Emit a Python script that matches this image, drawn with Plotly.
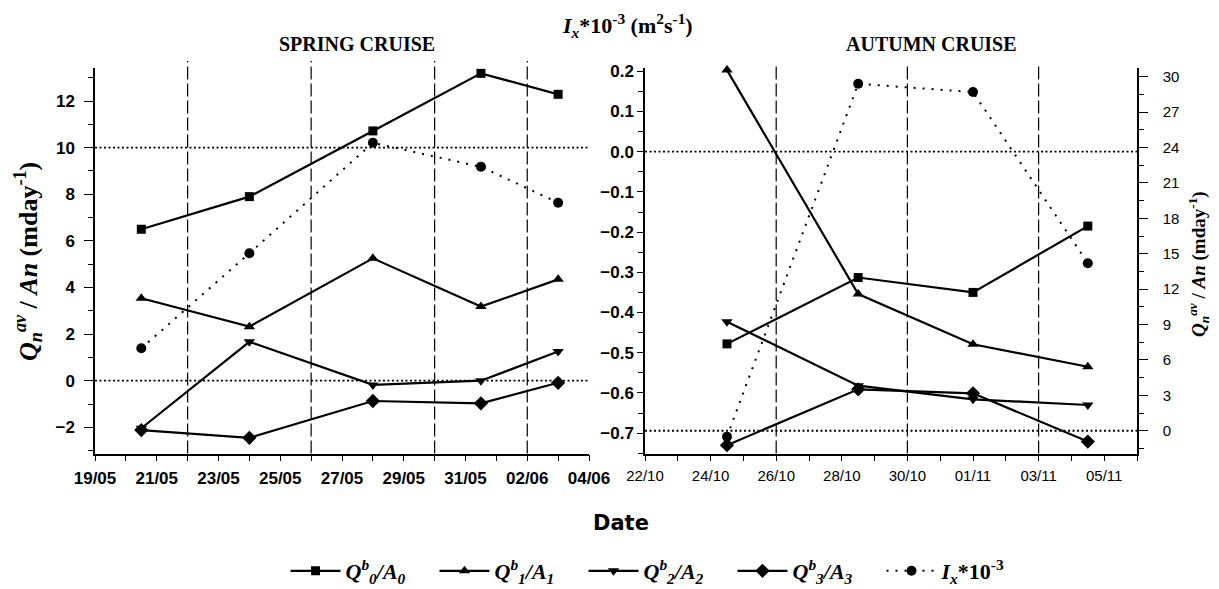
import plotly.graph_objects as go

W, H = 1219, 589        # browser window
OFF = 8                 # default page margin around the plot div
FW, FH = W - OFF, H - OFF

# ---------------- data ----------------
spring_dates = ["2001-05-20 12:00", "2001-05-24", "2001-05-28", "2001-05-31 12:00", "2001-06-03"]
spring_q0 = [6.50, 7.90, 10.72, 13.19, 12.29]
spring_q1 = [3.54, 2.32, 5.25, 3.18, 4.35]
spring_q2 = [-2.04, 1.67, -0.18, 0.00, 1.25]
spring_q3 = [-2.12, -2.45, -0.87, -0.97, -0.09]
spring_ix = [1.39, 5.47, 10.21, 9.18, 7.64]

autumn_dates = ["2001-10-24 12:00", "2001-10-28 12:00", "2001-11-01", "2001-11-04 12:00"]
autumn_q0 = [-0.478, -0.313, -0.350, -0.185]
autumn_q1 = [0.203, -0.354, -0.479, -0.535]
autumn_q2 = [-0.423, -0.582, -0.616, -0.630]
autumn_q3 = [-0.730, -0.591, -0.601, -0.721]
autumn_ix = [-0.5, 29.4, 28.7, 14.2]

spring_breaks = ["2001-05-22", "2001-05-26", "2001-05-30", "2001-06-02"]
autumn_breaks = ["2001-10-26", "2001-10-30", "2001-11-03"]
spring_zero_lines = [10, 0]

series_names = [
    "<i>Q</i><sup><i>b</i></sup><sub><i>0</i></sub><i>/A</i><sub><i>0</i></sub>",
    "<i>Q</i><sup><i>b</i></sup><sub><i>1</i></sub><i>/A</i><sub><i>1</i></sub>",
    "<i>Q</i><sup><i>b</i></sup><sub><i>2</i></sub><i>/A</i><sub><i>2</i></sub>",
    "<i>Q</i><sup><i>b</i></sup><sub><i>3</i></sub><i>/A</i><sub><i>3</i></sub>",
    "<i>I</i><sub><i>x</i></sub>*10<sup>-3</sup>",
]
symbols = ["square", "triangle-up", "triangle-down", "diamond", "circle"]
sizes = [9, 10, 10, 11, 10]

# ---------------- layout helpers (screen pixels -> paper fractions) ----------------
def px_x(p):
    return (p - OFF) / FW

def px_y(p):
    return (FH - (p - OFF)) / FH

xL = [px_x(95), px_x(589)]
xR = [px_x(645), px_x(1137)]
yD = [px_y(453.5), px_y(68)]

fig = go.Figure()

spring_series = [spring_q0, spring_q1, spring_q2, spring_q3]
autumn_series = [autumn_q0, autumn_q1, autumn_q2, autumn_q3]

for i, ys in enumerate(spring_series):
    fig.add_trace(go.Scatter(
        x=spring_dates, y=ys, mode="lines+markers", name=series_names[i],
        line=dict(color="black", width=2.2),
        marker=dict(symbol=symbols[i], size=sizes[i], color="black"),
        xaxis="x", yaxis="y", cliponaxis=False, legendrank=i + 1))
fig.add_trace(go.Scatter(
    x=spring_dates, y=spring_ix, mode="lines+markers", name=series_names[4],
    line=dict(color="black", width=2, dash="2px,7px"),
    marker=dict(symbol=symbols[4], size=sizes[4], color="black"),
    xaxis="x", yaxis="y", cliponaxis=False, legendrank=5))

for i, ys in enumerate(autumn_series):
    fig.add_trace(go.Scatter(
        x=autumn_dates, y=ys, mode="lines+markers", name=series_names[i],
        line=dict(color="black", width=2.2),
        marker=dict(symbol=symbols[i], size=sizes[i], color="black"),
        xaxis="x2", yaxis="y3", cliponaxis=False, showlegend=False))
fig.add_trace(go.Scatter(
    x=autumn_dates, y=autumn_ix, mode="lines+markers", name=series_names[4],
    line=dict(color="black", width=2, dash="2px,7px"),
    marker=dict(symbol=symbols[4], size=sizes[4], color="black"),
    xaxis="x2", yaxis="y4", cliponaxis=False, showlegend=False))

DAY = 86400000
bold_tick = dict(family="Liberation Sans", size=17, color="black", weight="bold")
reg_tick = dict(family="Liberation Sans", size=15, color="black")

common_x = dict(type="date", showgrid=False, zeroline=False, showline=True, linecolor="black",
                linewidth=1.5, ticks="outside", ticklen=6, tickwidth=1.2, tickcolor="black",
                tickformat="%d/%m", dtick=2 * DAY, automargin=False, ticklabelstandoff=2)

fig.update_layout(
    width=FW, height=FH,
    margin=dict(l=0, r=0, t=0, b=0, autoexpand=False),
    paper_bgcolor="white", plot_bgcolor="white",
    xaxis=dict(common_x, domain=xL, anchor="y", range=["2001-05-19", "2001-06-04"],
               tick0="2001-05-19", tickfont=bold_tick,
               minor=dict(dtick=DAY, tick0="2001-05-19", ticks="outside", ticklen=6,
                          tickwidth=1.2, tickcolor="black")),
    xaxis2=dict(common_x, domain=xR, anchor="y3", range=["2001-10-22", "2001-11-06"],
                tick0="2001-10-22", tickfont=reg_tick,
                minor=dict(dtick=DAY, tick0="2001-10-22", ticks="outside", ticklen=6,
                           tickwidth=1.2, tickcolor="black")),
    yaxis=dict(domain=yD, anchor="x", range=[-3.124, 13.42], showgrid=False, zeroline=False,
               showline=True, linecolor="black", linewidth=1.5, ticks="outside", ticklen=9,
               tickwidth=1.2, tickcolor="black", dtick=2, tick0=0, tickfont=bold_tick,
               automargin=False, ticklabelstandoff=6,
               minor=dict(dtick=1, tick0=0, ticks="outside", ticklen=5, tickwidth=1.2,
                          tickcolor="black")),
    yaxis2=dict(domain=yD, anchor="x", overlaying="y", side="right", range=[-0.7507, 0.2082],
                showgrid=False, zeroline=False, showline=True, linecolor="black", linewidth=1.5,
                ticks="inside", ticklen=6, tickwidth=1.2, tickcolor="black", dtick=0.05, tick0=0,
                showticklabels=False, automargin=False),
    yaxis3=dict(domain=yD, anchor="x2", range=[-0.7507, 0.2082], showgrid=False, zeroline=False,
                showline=True, linecolor="black", linewidth=1.5, ticks="outside", ticklen=6,
                tickwidth=1.2, tickcolor="black", dtick=0.1, tick0=0, tickformat=".1f",
                tickfont=bold_tick, automargin=False, ticklabelstandoff=0,
                minor=dict(dtick=0.05, tick0=0, ticks="outside", ticklen=5, tickwidth=1.2,
                           tickcolor="black")),
    yaxis4=dict(domain=yD, anchor="x2", overlaying="y3", side="right", range=[-1.93, 30.74],
                showgrid=False, zeroline=False, showline=True, linecolor="black", linewidth=1.5,
                ticks="outside", ticklen=9, tickwidth=1.2, tickcolor="black", dtick=3, tick0=0,
                tickfont=reg_tick, automargin=False, ticklabelstandoff=12,
                minor=dict(dtick=1.5, tick0=0, ticks="outside", ticklen=5, tickwidth=1.2,
                           tickcolor="black")),
    showlegend=True,
    legend=dict(orientation="h", x=px_x(658), xanchor="center", y=px_y(571), yanchor="middle",
                font=dict(family="Liberation Serif", size=22, color="black", weight="bold"),
                bgcolor="rgba(0,0,0,0)", itemwidth=50, entrywidth=84, entrywidthmode="pixels",
                traceorder="normal"),
)

shapes = []
for d in spring_breaks:
    shapes.append(dict(type="line", xref="x", yref="paper", x0=d, x1=d, y0=yD[0], y1=px_y(61),
                       line=dict(color="black", width=1.2, dash="13px,4px")))
for d in autumn_breaks:
    shapes.append(dict(type="line", xref="x2", yref="paper", x0=d, x1=d, y0=yD[0], y1=px_y(63),
                       line=dict(color="black", width=1.2, dash="13px,4px")))
for v in spring_zero_lines:
    shapes.append(dict(type="line", xref="x domain", yref="y", x0=0, x1=1, y0=v, y1=v,
                       line=dict(color="black", width=1.8, dash="2px,2.5px")))
shapes.append(dict(type="line", xref="x2 domain", yref="y3", x0=0, x1=1, y0=0, y1=0,
                   line=dict(color="black", width=1.8, dash="2px,2.5px")))
shapes.append(dict(type="line", xref="x2 domain", yref="y4", x0=0, x1=1, y0=0, y1=0,
                   line=dict(color="black", width=1.8, dash="2px,2.5px")))
fig.update_layout(shapes=shapes)

serif = "Liberation Serif"
annos = [
    dict(text="<b>SPRING CRUISE</b>", x=px_x(357), y=px_y(44),
         font=dict(family=serif, size=20, color="black")),
    dict(text="<b>AUTUMN CRUISE</b>", x=px_x(931), y=px_y(44),
         font=dict(family=serif, size=20, color="black")),
    dict(text="<b><i>I<sub>x</sub></i>*10<sup>-3</sup> (m<sup>2</sup>s<sup>-1</sup>)</b>",
         x=px_x(628), y=px_y(25), font=dict(family=serif, size=22, color="black")),
    dict(text="<b><i>Q<sub>n</sub><sup>av</sup></i> / <i>An</i> (mday<sup>-1</sup>)</b>",
         x=px_x(28), y=px_y(262), textangle=-90, font=dict(family=serif, size=26, color="black")),
    dict(text="<b><i>Q<sub>n</sub><sup>av</sup></i> / <i>An</i> (mday<sup>-1</sup>)</b>",
         x=px_x(1199), y=px_y(264), textangle=-90, font=dict(family=serif, size=19, color="black")),
    dict(text="<b>Date</b>", x=px_x(621), y=px_y(523),
         font=dict(family="DejaVu Sans", size=21, color="black")),
]
for a in annos:
    a.update(xref="paper", yref="paper", showarrow=False, xanchor="center", yanchor="middle")
fig.update_layout(annotations=annos)

fig.write_html("out.html")
